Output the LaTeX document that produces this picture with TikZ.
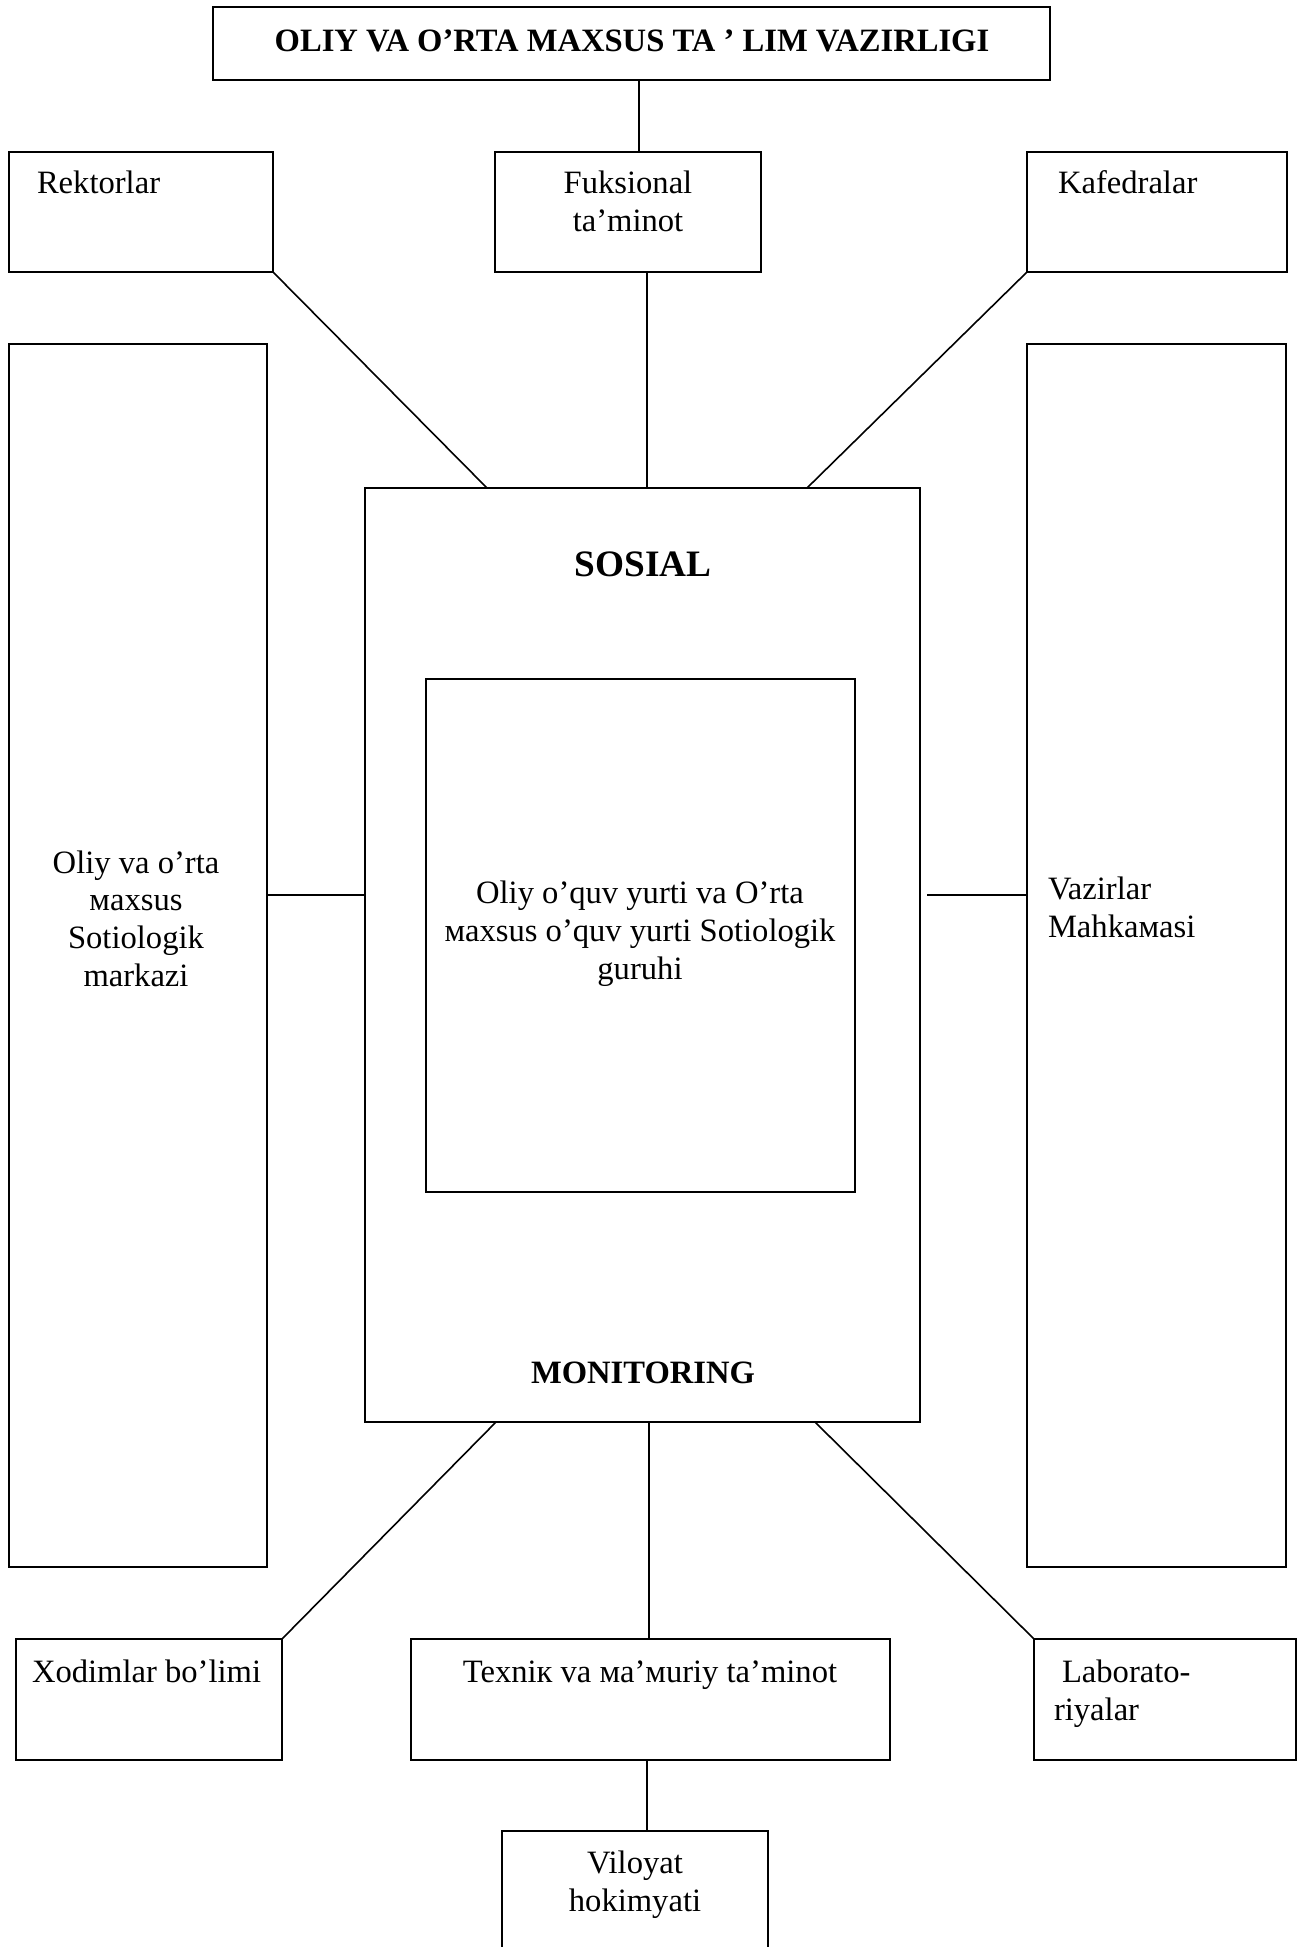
\documentclass[tikz,border=0pt]{standalone}
\usepackage{fontspec}
\setmainfont{Liberation Serif}
\usetikzlibrary{fit}
\begin{document}
\begin{tikzpicture}[x=1pt,y=-1pt,
  box/.style={draw, line width=2pt, inner sep=0pt, outer sep=0pt},
  conn/.style={line width=1.6pt},
  txt/.style={inner sep=0pt, outer sep=0pt, font=\fontsize{32.6}{37.6}\selectfont},
  btxt/.style={inner sep=0pt, outer sep=0pt, font=\fontsize{32.6}{37.6}\selectfont\bfseries},
]
\useasboundingbox (0,0) rectangle (1304,1947);
\clip (0,0) rectangle (1304,1947);
% boxes
\node[box, fit={(213,7) (1050,80)}] (top) {};
\node[box, fit={(9,152) (273,272)}] (rekt) {};
\node[box, fit={(495,152) (761,272)}] (fuks) {};
\node[box, fit={(1027,152) (1287,272)}] (kaf) {};
\node[box, fit={(9,344) (267,1567)}] (lcent) {};
\node[box, fit={(1027,344) (1286,1567)}] (vaz) {};
\node[box, fit={(365,488) (920,1422)}] (sos) {};
\node[box, fit={(426,679) (855,1192)}] (grp) {};
\node[box, fit={(16,1639) (282,1760)}] (xod) {};
\node[box, fit={(411,1639) (890,1760)}] (tex) {};
\node[box, fit={(1034,1639) (1296,1760)}] (lab) {};
\node[box, fit={(502,1831) (768,1990)}] (vil) {};
% texts (base anchor of a multi-line node = baseline of its last line)
\node[btxt, anchor=base] (topT) at (632,51) {OLIY VA O’RTA MAXSUS TA ’ LIM VAZIRLIGI};
\node[txt, anchor=base west] (rektT) at (37,193) {Rektorlar};
\node[txt, anchor=base, align=center] (fuksT) at (628,231) {Fuksional\\ta’minot};
\node[txt, anchor=base west] (kafT) at (1058,193) {Kafedralar};
\node[txt, anchor=base, align=center] (lcentT) at (136,986) {Oliy va o’rta\\мaxsus\\Sotiologik\\markazi};
\node[txt, anchor=base west, align=left] (vazT) at (1048,937) {Vazirlar\\Mahkaмasi};
\node[txt, font=\fontsize{37.3}{42}\selectfont\bfseries, anchor=base] (sosT) at (643,576) {SOSIAL};
\node[btxt, anchor=base] (monT) at (643,1383) {MONITORING};
\node[txt, anchor=base, align=center] (grpT) at (640,979) {Oliy o’quv yurti va O’rta\\мaxsus o’quv yurti Sotiologik\\guruhi};
\node[txt, anchor=base west] (xodT) at (32,1682) {Xodimlar bo’limi};
\node[txt, anchor=base] (texT) at (650,1682) {Texniк va ма’мuriy ta’minot};
\node[txt, anchor=base west, align=left] (labT) at (1054,1720) {\hspace*{8pt}Laborato-\\riyalar};
\node[txt, anchor=base, align=center] (vilT) at (635,1911) {Viloyat\\hokimyati};
% connectors
\coordinate (a1) at (639,0);
\draw[conn] (top.south -| a1) -- (fuks.north -| a1);
\coordinate (a2) at (647,0);
\draw[conn] (fuks.south -| a2) -- (sos.north -| a2);
\coordinate (a3) at (487,0);
\draw[conn] (rekt.south east) -- (sos.north -| a3);
\coordinate (a4) at (807,0);
\draw[conn] (kaf.south west) -- (sos.north -| a4);
\coordinate (a5) at (0,895);
\draw[conn] (lcent.east |- a5) -- (sos.west |- a5);
\coordinate (a6) at (927,895);
\draw[conn] (a6) -- (vaz.west |- a6);
\coordinate (b1) at (496,0);
\draw[conn] (sos.south -| b1) -- (xod.north east);
\coordinate (b2) at (649,0);
\draw[conn] (sos.south -| b2) -- (tex.north -| b2);
\coordinate (b3) at (815,0);
\draw[conn] (sos.south -| b3) -- (lab.north west);
\coordinate (b4) at (647,0);
\draw[conn] (tex.south -| b4) -- (vil.north -| b4);
\end{tikzpicture}
\end{document}
